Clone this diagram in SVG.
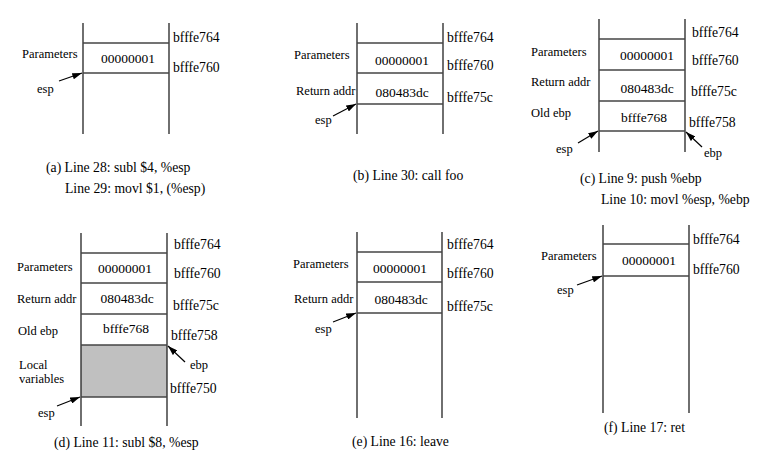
<svg xmlns="http://www.w3.org/2000/svg" width="764" height="463" viewBox="0 0 764 463">
<defs>
<marker id="ah" viewBox="0 0 12 8" refX="12" refY="4" markerWidth="10" markerHeight="6.5" markerUnits="userSpaceOnUse" orient="auto">
<path d="M0,0 L12,4 L0,8 z" fill="#000"/>
</marker>
<style>
.lb{font-size:12.5px}
.ad{font-size:13.7px}
.vl{font-size:13.5px;text-anchor:middle}
.cp{font-size:13.7px}
.v{stroke:#222;stroke-width:1.3;fill:none}
.h{stroke:#444;stroke-width:1.3;fill:none}
.ar{stroke:#000;stroke-width:1.2;fill:none;marker-end:url(#ah)}
.sh{fill:#c0c0c0;stroke:none}
</style>
</defs>
<rect width="764" height="463" fill="#fff"/>
<g font-family="Liberation Serif, Times New Roman, serif" fill="#000">
<g id="panel-a">
<line class="v" x1="83" y1="23" x2="83" y2="134"/>
<line class="v" x1="169" y1="23" x2="169" y2="134"/>
<line class="h" x1="83" y1="43" x2="169" y2="43"/>
<line class="h" x1="83" y1="73" x2="169" y2="73"/>
<text class="ad" x="173" y="42">bfffe764</text>
<text class="ad" x="173" y="72">bfffe760</text>
<text class="lb" x="22" y="58">Parameters</text>
<text class="vl" x="128" y="63">00000001</text>
<text class="lb" x="37" y="93">esp</text>
<text class="cp" x="46" y="172">(a) Line 28: subl $4, %esp</text>
<text class="cp" x="65" y="193">Line 29: movl $1, (%esp)</text>
</g>

<g id="panel-b">
<line class="v" x1="357" y1="23" x2="357" y2="134"/>
<line class="v" x1="443" y1="23" x2="443" y2="134"/>
<line class="h" x1="357" y1="43" x2="443" y2="43"/>
<line class="h" x1="357" y1="73" x2="443" y2="73"/>
<line class="h" x1="357" y1="104" x2="443" y2="104"/>
<text class="ad" x="447" y="42">bfffe764</text>
<text class="ad" x="447" y="70">bfffe760</text>
<text class="ad" x="447" y="102">bfffe75c</text>
<text class="lb" x="294" y="59">Parameters</text>
<text class="vl" x="402" y="65">00000001</text>
<text class="lb" x="296" y="95">Return addr</text>
<text class="vl" x="402" y="97">080483dc</text>
<text class="lb" x="315" y="124">esp</text>
<text class="cp" x="353" y="180">(b) Line 30: call foo</text>
</g>

<g id="panel-c">
<line class="v" x1="599" y1="19" x2="599" y2="152"/>
<line class="v" x1="685" y1="19" x2="685" y2="152"/>
<line class="h" x1="599" y1="39" x2="685" y2="39"/>
<line class="h" x1="599" y1="70" x2="685" y2="70"/>
<line class="h" x1="599" y1="101" x2="685" y2="101"/>
<line class="h" x1="599" y1="131" x2="685" y2="131"/>
<text class="ad" x="692" y="37">bfffe764</text>
<text class="ad" x="692" y="65">bfffe760</text>
<text class="ad" x="691" y="96">bfffe75c</text>
<text class="ad" x="689" y="127">bfffe758</text>
<text class="lb" x="531" y="56">Parameters</text>
<text class="vl" x="647" y="60">00000001</text>
<text class="lb" x="531" y="86">Return addr</text>
<text class="vl" x="647" y="93">080483dc</text>
<text class="lb" x="531" y="117">Old ebp</text>
<text class="vl" x="644" y="122">bfffe768</text>
<text class="lb" x="556" y="153">esp</text>
<text class="lb" x="704" y="157">ebp</text>
<text class="cp" x="580" y="183">(c) Line 9: push %ebp</text>
<text class="cp" x="601" y="204">Line 10: movl %esp, %ebp</text>
</g>

<g id="panel-d">
<rect class="sh" x="81" y="345" width="86" height="52"/>
<line class="v" x1="81" y1="233" x2="81" y2="426"/>
<line class="v" x1="167" y1="233" x2="167" y2="426"/>
<line class="h" x1="81" y1="253" x2="167" y2="253"/>
<line class="h" x1="81" y1="283" x2="167" y2="283"/>
<line class="h" x1="81" y1="314" x2="167" y2="314"/>
<line class="h" x1="81" y1="345" x2="167" y2="345"/>
<line class="h" x1="81" y1="397" x2="167" y2="397"/>
<text class="ad" x="174" y="249">bfffe764</text>
<text class="ad" x="174" y="278">bfffe760</text>
<text class="ad" x="173" y="310">bfffe75c</text>
<text class="ad" x="171" y="340">bfffe758</text>
<text class="ad" x="170" y="393">bfffe750</text>
<text class="lb" x="17" y="271">Parameters</text>
<text class="vl" x="125" y="273">00000001</text>
<text class="lb" x="17" y="303">Return addr</text>
<text class="vl" x="127" y="303">080483dc</text>
<text class="lb" x="18" y="335">Old ebp</text>
<text class="vl" x="126" y="333">bfffe768</text>
<text class="lb" x="19" y="369">Local</text>
<text class="lb" x="19" y="383">variables</text>
<text class="lb" x="190" y="369">ebp</text>
<text class="lb" x="38" y="417">esp</text>
<text class="cp" x="54" y="447">(d) Line 11: subl $8, %esp</text>
</g>

<g id="panel-e">
<line class="v" x1="357" y1="232" x2="357" y2="418"/>
<line class="v" x1="442" y1="232" x2="442" y2="418"/>
<line class="h" x1="357" y1="252" x2="442" y2="252"/>
<line class="h" x1="357" y1="282" x2="442" y2="282"/>
<line class="h" x1="357" y1="313" x2="442" y2="313"/>
<text class="ad" x="447" y="249">bfffe764</text>
<text class="ad" x="447" y="278">bfffe760</text>
<text class="ad" x="447" y="311">bfffe75c</text>
<text class="lb" x="293" y="268">Parameters</text>
<text class="vl" x="400" y="273">00000001</text>
<text class="lb" x="294" y="303">Return addr</text>
<text class="vl" x="401" y="304">080483dc</text>
<text class="lb" x="315" y="333">esp</text>
<text class="cp" x="352" y="446">(e) Line 16: leave</text>
</g>

<g id="panel-f">
<line class="v" x1="603" y1="225" x2="603" y2="413"/>
<line class="v" x1="689" y1="225" x2="689" y2="413"/>
<line class="h" x1="603" y1="244" x2="689" y2="244"/>
<line class="h" x1="603" y1="276" x2="689" y2="276"/>
<text class="ad" x="693" y="244">bfffe764</text>
<text class="ad" x="693" y="274">bfffe760</text>
<text class="lb" x="541" y="260">Parameters</text>
<text class="vl" x="649" y="265">00000001</text>
<text class="lb" x="557" y="294">esp</text>
<text class="cp" x="604" y="432">(f) Line 17: ret</text>
</g>

<g id="connectors">
<line class="ar" x1="59" y1="81" x2="82" y2="73"/>
<line class="ar" x1="333" y1="116" x2="356" y2="104"/>
<line class="ar" x1="578" y1="143" x2="598" y2="131"/>
<line class="ar" x1="702" y1="147" x2="686" y2="132"/>
<line class="ar" x1="185" y1="362" x2="168" y2="346"/>
<line class="ar" x1="57" y1="406" x2="80" y2="397"/>
<line class="ar" x1="333" y1="322" x2="356" y2="313"/>
<line class="ar" x1="577" y1="285" x2="602" y2="276"/>
</g>
</g>
</svg>
